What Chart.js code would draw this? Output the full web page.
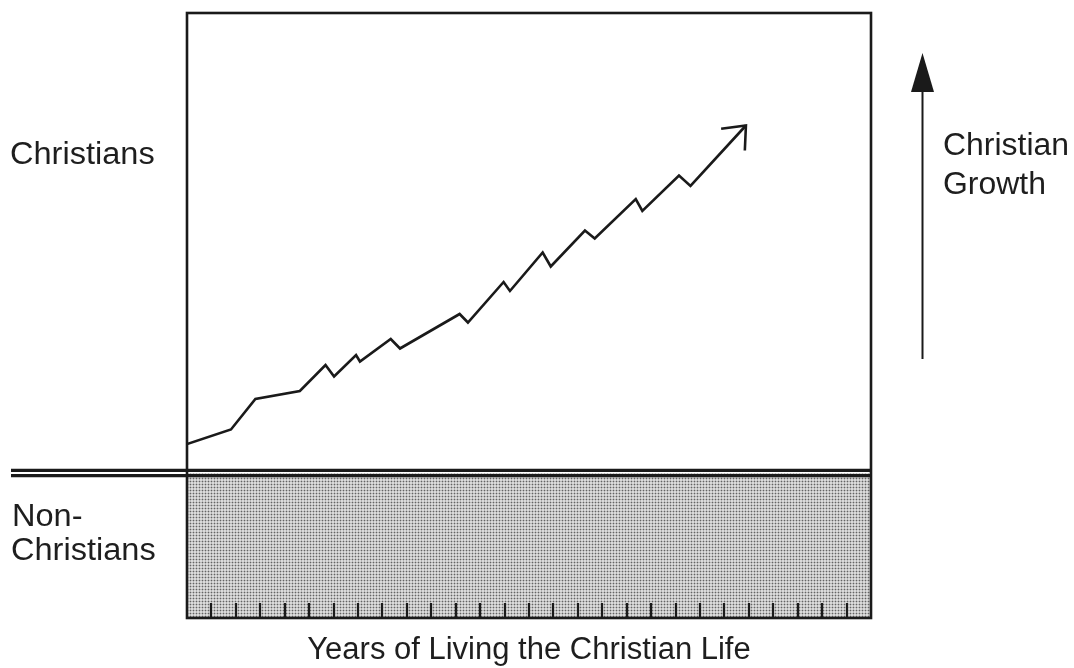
<!DOCTYPE html>
<html>
<head>
<meta charset="utf-8">
<script src="https://cdn.jsdelivr.net/npm/chart.js@4.4.1/dist/chart.umd.min.js"></script>
<style>
  html, body { margin: 0; padding: 0; background: #ffffff; }
  #wrap { width: 1074px; height: 668px; position: relative; }
</style>
</head>
<body>
<div id="wrap"><canvas id="c" width="1074" height="668"></canvas></div>
<script>
// ---- data ----
const growthYears = [0, 1.80, 2.80, 4.62, 5.67, 6.02, 6.92, 7.08, 8.34, 8.72, 11.16, 11.50, 12.96, 13.22, 14.56, 14.89, 16.29, 16.69, 18.37, 18.64, 20.14, 20.61, 22.88];
const growthLevel = [5.8, 8.7, 14.8, 16.4, 21.6, 19.3, 23.6, 22.3, 26.8, 24.9, 31.8, 30.1, 38.2, 36.4, 44.1, 41.3, 48.5, 46.9, 54.8, 52.4, 59.5, 57.4, 69.5];
const tickYears = [1,2,3,4,5,6,7,8,9,10,11,12,13,14,15,16,17,18,19,20,21,22,23,24,25,26,27];
const yearRange = [0, 28];
const levelRange = [-29, 92];
const boundaryLevel = 0;
const labelChristians = 'Christians';
const labelNon = ['Non-', 'Christians'];
const labelGrowth = ['Christian', 'Growth'];
const labelX = 'Years of Living the Christian Life';

// ---- dotted pattern ----
function makePattern(ctx) {
  const t = document.createElement('canvas');
  t.width = 3; t.height = 3;
  const g = t.getContext('2d');
  const img = g.createImageData(3, 3);
  const vals = [218,182,218, 182,100,182, 218,182,218];
  for (let i = 0; i < 9; i++) {
    img.data[i*4] = vals[i]; img.data[i*4+1] = vals[i]; img.data[i*4+2] = vals[i]; img.data[i*4+3] = 255;
  }
  g.putImageData(img, 0, 0);
  return ctx.createPattern(t, 'repeat');
}

const canvas = document.getElementById('c');
const ctx0 = canvas.getContext('2d');
const pattern = makePattern(ctx0);

const ink = '#1a1a1a';
const FONT = '31px "Liberation Sans", Arial, Helvetica, sans-serif';

function stretchedText(ctx, text, x, y, sx) {
  ctx.save();
  ctx.translate(x, y);
  ctx.scale(sx, 1);
  ctx.fillText(text, 0, 0);
  ctx.restore();
}

const decorPlugin = {
  id: 'decor',
  afterDatasetsDraw(chart) {
    const ctx = chart.ctx;
    const a = chart.chartArea;
    const xs = chart.scales.x, ys = chart.scales.y;
    const y0 = ys.getPixelForValue(boundaryLevel);
    ctx.save();
    ctx.strokeStyle = ink;
    ctx.fillStyle = ink;
    ctx.lineCap = 'butt';

    // ticks at bottom, pointing up
    ctx.lineWidth = 2.2;
    tickYears.forEach(v => {
      const px = Math.round(xs.getPixelForValue(v));
      ctx.beginPath();
      ctx.moveTo(px, a.bottom);
      ctx.lineTo(px, a.bottom - 15);
      ctx.stroke();
    });

    // box
    ctx.lineWidth = 2.6;
    ctx.strokeRect(a.left, a.top, a.right - a.left, a.bottom - a.top);

    // double boundary line
    ctx.lineWidth = 3.2;
    [-2.6, 2.6].forEach(d => {
      ctx.beginPath();
      ctx.moveTo(11, y0 + d);
      ctx.lineTo(a.right, y0 + d);
      ctx.stroke();
    });

    // open arrowhead at end of growth line
    const meta = chart.getDatasetMeta(0);
    const pts = meta.data;
    const p1 = pts[pts.length - 2], p2 = pts[pts.length - 1];
    const ang = Math.atan2(p1.y - p2.y, p1.x - p2.x);
    const L = 25, spread = 40 * Math.PI / 180;
    ctx.lineWidth = 2.6;
    ctx.lineJoin = 'miter';
    ctx.beginPath();
    ctx.moveTo(p2.x + L * Math.cos(ang - spread), p2.y + L * Math.sin(ang - spread));
    ctx.lineTo(p2.x, p2.y);
    ctx.lineTo(p2.x + L * Math.cos(ang + spread), p2.y + L * Math.sin(ang + spread));
    ctx.stroke();

    // vertical "growth" arrow on the right
    const ax = a.right + 51.5;
    ctx.lineWidth = 2;
    ctx.beginPath();
    ctx.moveTo(ax, 359);
    ctx.lineTo(ax, 88);
    ctx.stroke();
    ctx.beginPath();
    ctx.moveTo(ax, 53);
    ctx.lineTo(ax - 11.5, 92);
    ctx.lineTo(ax + 11.5, 92);
    ctx.closePath();
    ctx.fill();

    // labels
    ctx.font = FONT;
    ctx.fillStyle = '#1e1e1e';
    ctx.textBaseline = 'alphabetic';
    ctx.textAlign = 'left';
    stretchedText(ctx, labelChristians, 10, 164, 1.05);
    stretchedText(ctx, labelNon[0], 12, 526, 1.05);
    stretchedText(ctx, labelNon[1], 11, 560, 1.05);
    stretchedText(ctx, labelGrowth[0], 943, 155, 1.03);
    stretchedText(ctx, labelGrowth[1], 943, 194, 1.03);
    ctx.textAlign = 'center';
    ctx.fillText(labelX, (a.left + a.right) / 2, 659);
    ctx.restore();
  }
};

new Chart(canvas, {
  type: 'line',
  data: {
    datasets: [
      {
        label: 'Christian growth',
        data: growthYears.map((x, i) => ({ x: x, y: growthLevel[i] })),
        borderColor: ink,
        borderWidth: 2.6,
        pointRadius: 0,
        tension: 0,
        fill: false,
        borderJoinStyle: 'miter',
        order: 1
      },
      {
        label: 'Non-Christians',
        data: yearRange.map(x => ({ x: x, y: boundaryLevel })),
        borderWidth: 0,
        borderColor: 'rgba(0,0,0,0)',
        backgroundColor: pattern,
        pointRadius: 0,
        fill: 'start',
        order: 2
      }
    ]
  },
  options: {
    responsive: false,
    animation: false,
    events: [],
    layout: { padding: { left: 187, top: 13, right: 203, bottom: 50 } },
    plugins: { legend: { display: false }, tooltip: { enabled: false }, title: { display: false } },
    scales: {
      x: { type: 'linear', min: yearRange[0], max: yearRange[1], display: false },
      y: { type: 'linear', min: levelRange[0], max: levelRange[1], display: false }
    }
  },
  plugins: [decorPlugin]
});
</script>
</body>
</html>
